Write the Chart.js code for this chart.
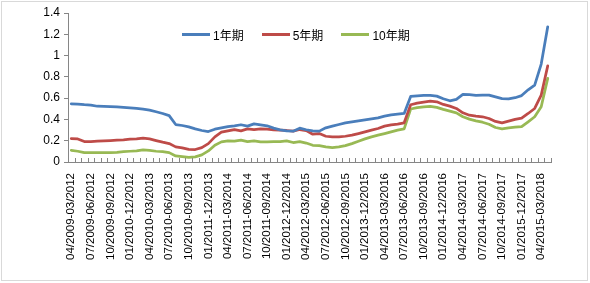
<!DOCTYPE html>
<html>
<head>
<meta charset="utf-8">
<script src="https://cdn.jsdelivr.net/npm/chart.js@4.4.0/dist/chart.umd.min.js"></script>
<style>
html,body{margin:0;padding:0;background:#fff;}
#wrap{position:relative;width:590px;height:283px;overflow:hidden;}
#frame{position:absolute;left:1px;top:1px;width:585px;height:278px;border:1px solid #d9d9d9;box-sizing:content-box;}
#c{position:absolute;left:0;top:0;}
#legend{position:absolute;left:182px;top:26px;display:flex;font:12px "Liberation Sans","Noto Sans CJK SC",sans-serif;color:#000;white-space:nowrap;}
.item{display:flex;align-items:center;margin-right:18px;}
.sw{width:28px;height:3px;margin-right:3px;}
</style>
</head>
<body>
<div id="wrap">
  <div id="frame"></div>
  <canvas id="c" width="590" height="283"></canvas>
  <div id="legend"></div>
</div>
<script>
// Categories (rolling 3-year windows, monthly)
const labels = [
 "04/2009-03/2012","05/2009-04/2012","06/2009-05/2012","07/2009-06/2012","08/2009-07/2012","09/2009-08/2012",
 "10/2009-09/2012","11/2009-10/2012","12/2009-11/2012","01/2010-12/2012","02/2010-01/2013","03/2010-02/2013",
 "04/2010-03/2013","05/2010-04/2013","06/2010-05/2013","07/2010-06/2013","08/2010-07/2013","09/2010-08/2013",
 "10/2010-09/2013","11/2010-10/2013","12/2010-11/2013","01/2011-12/2013","02/2011-01/2014","03/2011-02/2014",
 "04/2011-03/2014","05/2011-04/2014","06/2011-05/2014","07/2011-06/2014","08/2011-07/2014","09/2011-08/2014",
 "10/2011-09/2014","11/2011-10/2014","12/2011-11/2014","01/2012-12/2014","02/2012-01/2015","03/2012-02/2015",
 "04/2012-03/2015","05/2012-04/2015","06/2012-05/2015","07/2012-06/2015","08/2012-07/2015","09/2012-08/2015",
 "10/2012-09/2015","11/2012-10/2015","12/2012-11/2015","01/2013-12/2015","02/2013-01/2016","03/2013-02/2016",
 "04/2013-03/2016","05/2013-04/2016","06/2013-05/2016","07/2013-06/2016","08/2013-07/2016","09/2013-08/2016",
 "10/2013-09/2016","11/2013-10/2016","12/2013-11/2016","01/2014-12/2016","02/2014-01/2017","03/2014-02/2017",
 "04/2014-03/2017","05/2014-04/2017","06/2014-05/2017","07/2014-06/2017","08/2014-07/2017","09/2014-08/2017",
 "10/2014-09/2017","11/2014-10/2017","12/2014-11/2017","01/2015-12/2017","02/2015-01/2018","03/2015-02/2018",
 "04/2015-03/2018","05/2015-04/2018"
];

const seriesNames = ["1年期","5年期","10年期"];

const y1 = [
 0.547,0.543,0.538,0.535,0.524,0.522,0.521,0.518,0.513,0.509,0.503,0.497,
 0.488,0.472,0.456,0.436,0.352,0.343,0.330,0.311,0.296,0.286,0.308,0.320,
 0.333,0.340,0.350,0.337,0.358,0.349,0.340,0.318,0.302,0.293,0.290,0.318,
 0.303,0.293,0.290,0.321,0.337,0.352,0.368,0.377,0.387,0.396,0.406,0.415,
 0.431,0.443,0.450,0.456,0.616,0.622,0.625,0.627,0.619,0.594,0.575,0.588,
 0.635,0.632,0.626,0.629,0.629,0.612,0.596,0.593,0.604,0.624,0.678,0.723,
 0.920,1.270
];

const y5 = [
 0.220,0.217,0.192,0.192,0.195,0.198,0.201,0.205,0.208,0.214,0.217,0.224,
 0.217,0.201,0.186,0.173,0.142,0.132,0.118,0.117,0.135,0.173,0.236,0.280,
 0.293,0.305,0.293,0.311,0.305,0.311,0.308,0.302,0.299,0.296,0.290,0.305,
 0.295,0.261,0.267,0.242,0.236,0.236,0.242,0.252,0.267,0.283,0.299,0.315,
 0.337,0.349,0.356,0.368,0.538,0.553,0.563,0.571,0.566,0.541,0.525,0.503,
 0.462,0.440,0.431,0.425,0.409,0.381,0.368,0.384,0.400,0.412,0.456,0.503,
 0.629,0.903
];

const y10 = [
 0.110,0.101,0.088,0.088,0.088,0.088,0.088,0.091,0.098,0.101,0.104,0.113,
 0.110,0.101,0.098,0.088,0.057,0.050,0.043,0.048,0.067,0.104,0.158,0.189,
 0.199,0.196,0.205,0.192,0.199,0.189,0.189,0.192,0.192,0.199,0.183,0.192,
 0.178,0.157,0.154,0.142,0.135,0.142,0.154,0.173,0.195,0.217,0.236,0.252,
 0.267,0.283,0.299,0.311,0.498,0.511,0.519,0.522,0.513,0.494,0.478,0.462,
 0.425,0.403,0.387,0.374,0.355,0.324,0.311,0.321,0.327,0.333,0.378,0.425,
 0.519,0.786
];

const FAMILY = '"Liberation Sans","Noto Sans CJK SC",sans-serif';
const colors = ["#4a7ebb","#be4b48","#98b954"];
const AXIS = "#868686";

const innerTicks = {
  id: 'innerTicks',
  afterDatasetsDraw(chart) {
    const xs = chart.scales.x, ctx = chart.ctx, b = chart.chartArea.bottom;
    ctx.save();
    ctx.strokeStyle = AXIS;
    ctx.lineWidth = 1;
    ctx.beginPath();
    for (let k = 0; k <= labels.length; k++) {
      const px = Math.round(xs.getPixelForValue(k - 0.5)) + 0.5;
      ctx.moveTo(px, b);
      ctx.lineTo(px, b - 4);
    }
    ctx.stroke();
    ctx.restore();
  }
};

const chart = new Chart(document.getElementById('c'), {
  type: 'line',
  data: {
    labels: labels,
    datasets: [y1, y5, y10].map((d, i) => ({
      label: seriesNames[i],
      data: d,
      borderColor: colors[i],
      backgroundColor: colors[i],
      borderWidth: 2.75,
      pointRadius: 0,
      tension: 0,
      fill: false,
      borderJoinStyle: 'round',
      borderCapStyle: 'round'
    }))
  },
  options: {
    responsive: false,
    animation: false,
    devicePixelRatio: 1,
    layout: { padding: { top: 13, right: 39, left: 0, bottom: 0 } },
    plugins: { legend: { display: false }, tooltip: { enabled: false } },
    scales: {
      x: {
        type: 'category',
        offset: true,
        grid: { display: false, drawTicks: false },
        border: { display: true, color: AXIS, width: 1 },
        ticks: {
          autoSkip: false, maxRotation: 90, minRotation: 90, padding: 11,
          color: '#000', font: { family: FAMILY, size: 11.5 },
          callback: (v, i) => (i % 3 === 0 ? labels[i] : '')
        },
        afterFit(s) { s.height = 121; }
      },
      y: {
        min: 0, max: 1.4,
        grid: { drawOnChartArea: false, drawTicks: true, tickLength: 4, color: AXIS },
        border: { display: true, color: AXIS, width: 1 },
        ticks: {
          stepSize: 0.2, padding: 4, color: '#000', font: { family: FAMILY, size: 12 },
          callback: v => String(Number(v.toFixed(1)))
        },
        afterFit(s) { s.width = 68; }
      }
    }
  },
  plugins: [innerTicks]
});

// legend built from chart datasets
const lg = document.getElementById('legend');
chart.data.datasets.forEach(ds => {
  const it = document.createElement('div'); it.className = 'item';
  const sw = document.createElement('span'); sw.className = 'sw'; sw.style.background = ds.borderColor;
  const tx = document.createElement('span'); tx.textContent = ds.label;
  it.appendChild(sw); it.appendChild(tx); lg.appendChild(it);
});
</script>
</body>
</html>
